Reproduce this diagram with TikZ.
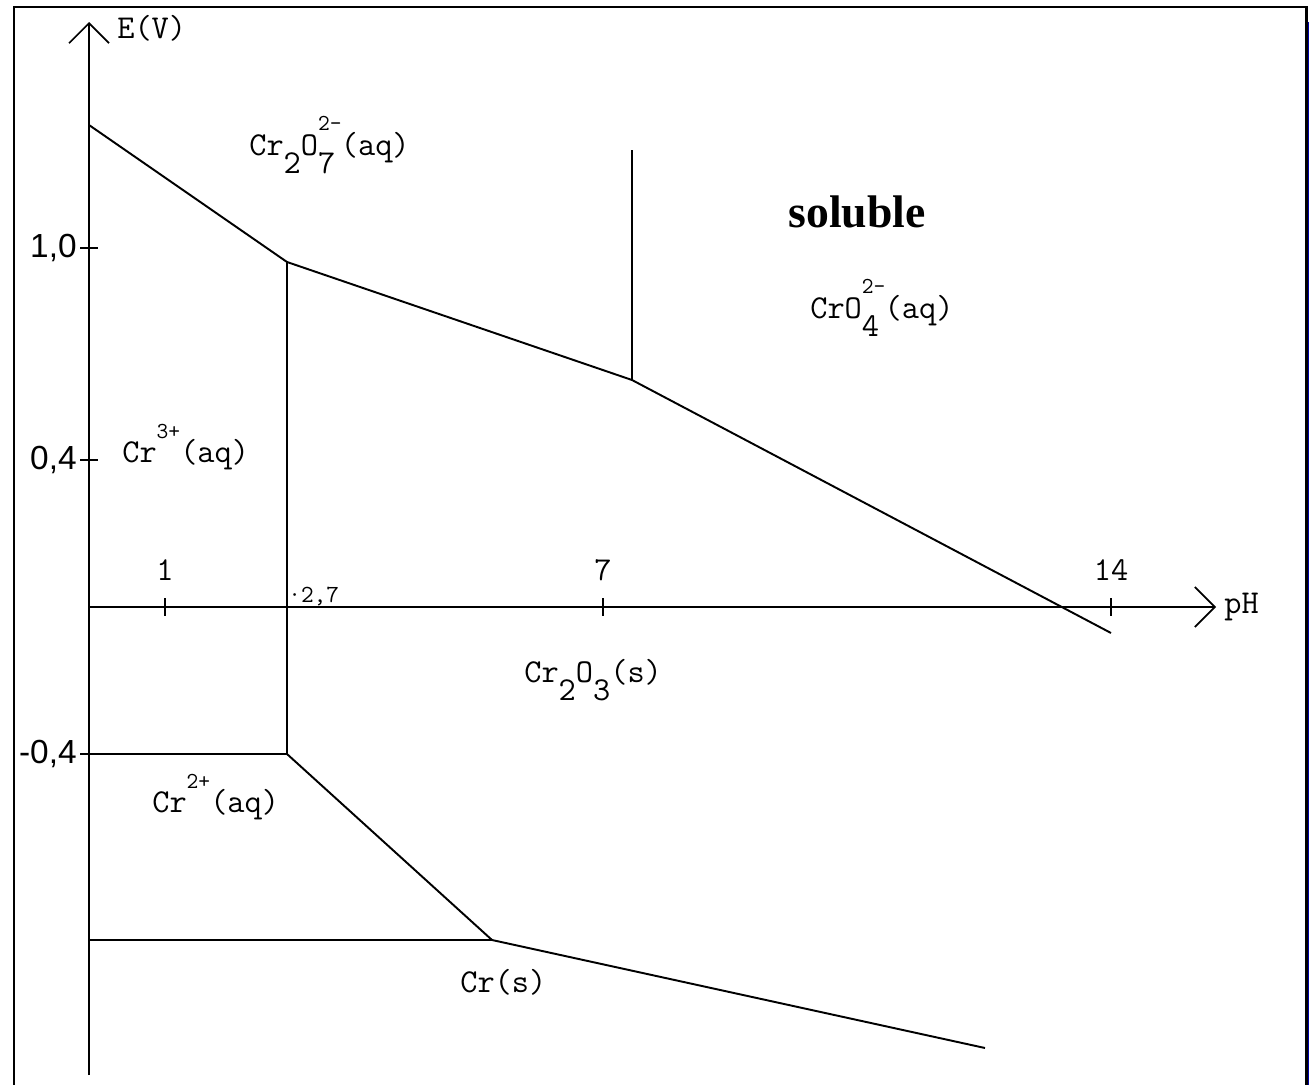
\documentclass[tikz,border=0pt]{standalone}
\usepackage{fontspec}
\setmainfont{Liberation Serif}
\setsansfont{Liberation Sans}
\usetikzlibrary{arrows.meta}

% subscript with a superscript stacked over it
\newcommand{\supsize}{\fontsize{13}{13}\selectfont}
\newcommand{\subsup}[2]{\rlap{\raisebox{1.7ex}{\supsize #2}}\raisebox{-1.25ex}{#1}}
\newcommand{\subonly}[1]{\raisebox{-1.25ex}{#1}}
\newcommand{\suponly}[1]{\raisebox{1.7ex}{\supsize #1}}

\tikzset{
  lbl/.style={font=\ttfamily\fontsize{19}{19}\selectfont, inner sep=0pt},
  ticklbl/.style={font=\sffamily\fontsize{19}{19}\selectfont, inner sep=0pt},
  bound/.style={line width=1.1pt},
  axis/.style={line width=1.1pt, -{Straight Barb[length=0.4cm,width=0.8cm,line width=1pt]}},
}

\begin{document}
\begin{tikzpicture}[x=0.02cm, y=-0.02cm]
    \useasboundingbox (0,0) rectangle (1309,1085);
    \fill[white] (0,0) rectangle (1309,1085);
    % frame
    \draw[line width=1.7pt] (14,1085) -- (14,7) -- (1306,7) -- (1306,1085);
    \fill[blue!65!black] (1307.5,22) rectangle (1309,1085);

    % corners of the domains
    \coordinate (a) at (89,125);
    \coordinate (b) at (287,262);
    \coordinate (c) at (632,380);
    \coordinate (d) at (1111,633);
    \coordinate (e) at (632,150);
    \coordinate (f) at (287,754);
    \coordinate (g) at (89,754);
    \coordinate (h) at (492,940);
    \coordinate (i) at (89,940);
    \coordinate (j) at (985,1048);

    % axes
    \draw[axis] (89,1075) -- (89,22);
    \draw[axis] (89,607) -- (1216,607);
    \node[lbl, anchor=west] (Elbl) at (117,28) {E(V)};
    \node[lbl, anchor=west] (pHlbl) at (1224,607) {pH};

    \foreach \y/\t [count=\n] in {248/{1,0},460/{0,4},754/{-0,4}} {
        \draw[line width=1pt] (80,\y) -- (98,\y);
        \node[ticklbl, anchor=east] (yt\n) at (77,\y) {\t};
    }
    \foreach \x/\t [count=\n] in {165/1,603/7,1111/14} {
        \draw[line width=1pt] (\x,598) -- (\x,616);
        \node[lbl] (xt\n) at (\x,570) {\t};
    }
    \node[font=\ttfamily\fontsize{14}{14}\selectfont, inner sep=0pt, anchor=west] (xt27) at (288,597) {·2,7};

    % boundaries
    \draw[bound] (a) -- (b) -- (c) -- (d);
    \draw[bound] (c) -- (e);
    \draw[bound] (b) -- (f) -- (g);
    \draw[bound] (f) -- (h) -- (j);
    \draw[bound] (i) -- (h);

    % species
    \node[lbl, anchor=west] (dichro) at (249,145) {Cr\subonly{2}O\subsup{7}{2-}\,(aq)};
    \node[font=\rmfamily\bfseries\fontsize{26}{26}\selectfont, inner sep=0pt] (sol) at (857,212) {soluble};
    \node[lbl, anchor=west] (chro) at (810,308) {CrO\subsup{4}{2-}\,(aq)};
    \node[lbl, anchor=west] (cr3) at (122,447) {Cr\suponly{3+}(aq)};
    \node[lbl, anchor=west] (oxide) at (524,680) {Cr\subonly{2}O\subonly{3}(s)};
    \node[lbl, anchor=west] (cr2) at (152,797) {Cr\suponly{2+}(aq)};
    \node[lbl, anchor=west] (metal) at (460,982) {Cr(s)};
\end{tikzpicture}
\end{document}
